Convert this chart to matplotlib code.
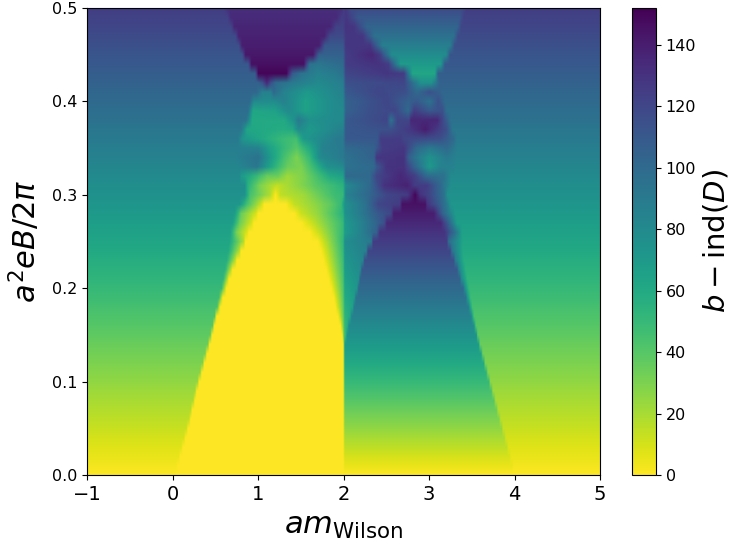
import numpy as np
import matplotlib
matplotlib.use("Agg")
import matplotlib.pyplot as plt

# ---- lower block: region edges read per row ----
low_y = [.00,.01,.02,.03,.04,.05,.06,.07,.08,.09,.10,.11,.12,.13,.14,.15,.16,.17,.18,.19,.20,.21,.22,.23,.24,.25]
low_bg = [0,2.5,5,7.5,10,12.5,15,17.5,20,22.5,25,27.5,30,32.5,35,37.5,40,42.5,45,47.5,50,52.5,55,57.5,60,62.5]
low_wedge = [0,5,10,15,20,25,30,35,40,45,50,55,60,65,70,75,80,85,90,95,100,105,110,115,120,125]
yellow_left = [.02,.05,.08,.11,.14,.17,.20,.22,.25,.27,.30,.33,.36,.39,.42,.45,.48,.51,.55,.58,.62,.65,.69,.74,.79,.84]
fringe_left = [.02,.05,.08,.11,.14,.17,.20,.22,.25,.27,.30,.33,.36,.39,.42,.45,.47,.49,.52,.54,.57,.59,.61,.63,.65,.66]
yellow_right = [2,2,2,2,2,2,2,2,2,2,2,2,2,2,2,1.98,1.96,1.93,1.90,1.88,1.85,1.82,1.79,1.76,1.73,1.69]
wedge_left = [2,2,2,2,2,2,2,2,2,2,2,2,2,2,2,2.03,2.05,2.08,2.11,2.13,2.16,2.18,2.20,2.23,2.27,2.33]
wedge_right = [4.0,3.97,3.94,3.91,3.88,3.85,3.82,3.79,3.76,3.73,3.70,3.67,3.64,3.61,3.58,3.55,3.52,3.49,3.46,3.43,3.40,3.36,3.33,3.29,3.25,3.21]
fringe_right = [4.0,3.97,3.94,3.91,3.88,3.85,3.82,3.79,3.76,3.73,3.70,3.67,3.64,3.61,3.58,3.56,3.54,3.52,3.50,3.48,3.46,3.44,3.42,3.40,3.39,3.39]

# ---- upper block: (x, value) anchors read per row ----
upper_y = [.26,.27,.28,.29,.30,.31,.32,.33,.34,.35,.36,.37,.38,.39,.40,.41,.42,.43,.44,.45,.46,.47,.48,.49,.50]
upper_rows = [
 [(-1,65),(.67,65),(.75,30),(.87,8),(.89,0),(1.6,0),(1.7,12),(1.8,25),(1.95,45),(1.99,50),(2.01,68),(2.2,85),(2.38,105),(2.42,130),(3.17,130),(3.3,95),(3.38,65),(5,65)],
 [(-1,67),(.70,67),(.78,35),(.92,10),(.95,0),(1.5,0),(1.6,10),(1.75,25),(1.95,45),(1.99,50),(2.01,70),(2.2,85),(2.35,100),(2.47,115),(2.5,135),(3.13,135),(3.25,95),(3.32,67),(5,67)],
 [(-1,70),(.72,70),(.8,35),(.97,10),(1.0,0),(1.42,0),(1.5,12),(1.7,25),(1.9,45),(1.99,55),(2.01,75),(2.2,90),(2.4,110),(2.55,120),(2.58,140),(3.05,140),(3.15,105),(3.3,70),(5,70)],
 [(-1,72),(.78,72),(.87,45),(1.02,15),(1.07,0),(1.32,0),(1.42,14),(1.65,25),(1.85,38),(1.97,50),(2.01,75),(2.25,95),(2.4,120),(2.65,125),(2.68,145),(2.95,145),(2.97,130),(3.1,110),(3.2,90),(3.25,72),(5,72)],
 [(-1,75),(.84,75),(.9,45),(1.14,18),(1.2,0),(1.26,15),(1.53,22),(1.71,35),(1.9,48),(1.99,50),(2.02,85),(2.27,100),(2.5,120),(2.74,125),(2.83,150),(2.89,130),(3.0,120),(3.17,95),(3.21,75),(5,75)],
 [(-1,77),(.84,77),(.88,55),(1.02,30),(1.14,20),(1.22,14),(1.34,20),(1.5,28),(1.69,40),(1.9,50),(1.99,55),(2.02,80),(2.3,100),(2.47,130),(2.74,138),(2.83,125),(2.97,125),(3.13,100),(3.21,85),(3.25,77),(5,77)],
 [(-1,80),(.78,80),(.8,70),(.98,50),(1.1,35),(1.22,35),(1.34,22),(1.53,30),(1.69,45),(1.84,60),(1.99,65),(2.02,100),(2.3,100),(2.38,120),(2.66,135),(2.82,125),(2.97,100),(3.17,95),(3.25,80),(5,80)],
 [(-1,82),(.75,82),(.98,92),(1.1,70),(1.22,50),(1.34,35),(1.5,30),(1.65,50),(1.8,75),(1.99,80),(2.02,95),(2.35,100),(2.38,110),(2.5,130),(2.7,130),(2.82,105),(3.0,70),(3.13,85),(3.28,85),(3.3,82),(5,82)],
 [(-1,85),(.72,85),(1.0,95),(1.14,70),(1.3,45),(1.45,30),(1.6,50),(1.72,80),(1.99,90),(2.02,95),(2.35,105),(2.38,128),(2.7,130),(2.76,105),(2.9,85),(3.0,75),(3.2,90),(3.32,85),(5,85)],
 [(-1,87),(.73,87),(1.0,85),(1.14,65),(1.3,50),(1.45,40),(1.6,60),(1.75,85),(1.99,90),(2.02,100),(2.35,105),(2.45,125),(2.7,128),(2.85,100),(3.0,90),(3.2,100),(3.32,87),(5,87)],
 [(-1,90),(.76,90),(.82,72),(1.26,50),(1.44,45),(1.53,70),(1.92,90),(1.99,90),(2.02,110),(2.39,110),(2.43,125),(2.66,125),(2.7,120),(3.13,115),(3.28,100),(3.32,90),(5,90)],
 [(-1,92),(.80,92),(.87,62),(1.3,58),(1.4,60),(1.47,80),(1.6,70),(1.95,85),(1.99,85),(2.02,110),(2.55,115),(2.78,128),(2.95,140),(3.2,115),(3.27,92),(5,92)],
 [(-1,95),(.86,95),(.93,60),(1.3,60),(1.41,75),(1.47,90),(1.6,75),(1.92,80),(1.99,80),(2.02,110),(2.5,120),(2.55,95),(2.62,120),(2.76,120),(2.78,135),(3.09,135),(3.21,105),(3.25,95),(5,95)],
 [(-1,97),(.88,97),(.94,62),(1.2,65),(1.35,80),(1.55,65),(1.9,80),(1.99,80),(2.02,105),(2.3,115),(2.6,120),(2.75,100),(2.82,125),(3.0,110),(3.15,115),(3.2,97),(5,97)],
 [(-1,100),(.90,100),(.95,80),(1.18,78),(1.3,85),(1.55,65),(1.9,80),(1.99,82),(2.02,105),(2.5,120),(2.75,105),(2.85,110),(3.0,95),(3.1,115),(3.18,100),(5,100)],
 [(-1,102),(.98,102),(1.05,85),(1.14,85),(1.18,100),(1.3,85),(1.57,70),(1.9,82),(1.99,85),(2.02,110),(2.4,120),(2.72,115),(2.85,100),(3.0,115),(3.15,102),(5,102)],
 [(-1,105),(1.0,105),(1.05,115),(1.1,135),(1.15,115),(1.2,100),(1.4,90),(1.7,80),(1.9,85),(1.99,88),(2.02,115),(2.7,120),(2.9,75),(3.02,75),(3.12,105),(5,105)],
 [(-1,107),(.96,107),(1.0,150),(1.33,150),(1.40,110),(1.5,95),(1.7,85),(1.9,90),(1.99,95),(2.02,120),(2.5,128),(2.70,125),(2.80,62),(3.06,62),(3.10,107),(5,107)],
 [(-1,110),(.88,110),(.92,146),(1.53,146),(1.60,95),(1.7,92),(1.99,100),(2.02,125),(2.4,130),(2.52,125),(2.66,70),(3.13,70),(3.18,110),(5,110)],
 [(-1,112),(.81,112),(.85,142),(1.64,142),(1.71,105),(1.99,105),(2.02,125),(2.33,135),(2.42,125),(2.56,78),(3.19,78),(3.24,112),(5,112)],
 [(-1,115),(.77,115),(.81,140),(1.71,140),(1.78,110),(1.99,110),(2.02,128),(2.31,128),(2.45,87),(3.24,87),(3.29,115),(5,115)],
 [(-1,117),(.73,117),(.77,138),(1.77,138),(1.84,118),(1.99,118),(2.02,128),(2.22,128),(2.36,95),(3.28,95),(3.33,117),(5,117)],
 [(-1,120),(.68,120),(.72,136),(1.84,136),(1.91,122),(1.99,122),(2.02,130),(2.12,128),(2.27,103),(3.32,103),(3.37,120),(5,120)],
 [(-1,122),(.64,122),(.68,134),(1.91,134),(1.97,125),(1.99,125),(2.03,128),(2.17,110),(3.35,110),(3.40,122),(5,122)],
 [(-1,125),(.60,125),(.64,132),(1.98,132),(1.99,125),(2.02,128),(2.08,118),(3.38,118),(3.43,125),(5,125)],
]

x_ticks = [-1, 0, 1, 2, 3, 4, 5]
y_ticks = [0.0, 0.1, 0.2, 0.3, 0.4, 0.5]
cbar_ticks = [0, 20, 40, 60, 80, 100, 120, 140]
v_max = 152

# ---- assemble the picture ----
xs = np.arange(-1, 5.0001, 0.01)
rows = []
for i in range(len(low_y)):
    pts = [(-1, low_bg[i])]
    if fringe_left[i] < yellow_left[i]:
        pts.append((fringe_left[i], low_bg[i]))
        pts.append((yellow_left[i] - .005, low_bg[i] * 0.25))
    else:
        pts.append((yellow_left[i] - .005, low_bg[i]))
    pts.append((yellow_left[i] + .005, 0))
    if yellow_right[i] < 1.995:
        pts.append((yellow_right[i], 0))
        pts.append((1.995, low_wedge[i] * 0.42))
        pts.append((2.005, low_wedge[i] * 0.62))
        pts.append((wedge_left[i] - .005, low_wedge[i] * 0.72))
        pts.append((wedge_left[i] + .005, low_wedge[i]))
    else:
        pts.append((1.995, 0))
        pts.append((2.005, low_wedge[i]))
    pts.append((wedge_right[i] - .005, low_wedge[i]))
    if fringe_right[i] > wedge_right[i] + .01:
        pts.append((wedge_right[i] + .005, low_wedge[i] * 0.8))
        pts.append((fringe_right[i], low_bg[i]))
    else:
        pts.append((wedge_right[i] + .005, low_bg[i]))
    pts.append((5, low_bg[i]))
    rows.append(np.interp(xs, [p[0] for p in pts], [p[1] for p in pts]))
for anchors in upper_rows:
    rows.append(np.interp(xs, [p[0] for p in anchors], [p[1] for p in anchors]))
Z = np.array(rows)

fig = plt.figure(figsize=(7.34, 5.48), dpi=100)
W, H = 734.0, 548.0
ax = fig.add_axes([87 / W, (H - 475) / H, (600 - 87) / W, (475 - 8) / H])
im = ax.imshow(Z, origin="lower", aspect="auto", cmap="viridis_r", vmin=0, vmax=v_max,
               extent=[-1.005, 5.005, -0.005, 0.505], interpolation="bilinear")
ax.set_xlim(-1, 5)
ax.set_ylim(0, 0.5)
ax.set_xticks(x_ticks)
ax.set_yticks(y_ticks)
ax.tick_params(axis="x", labelsize=14)
ax.tick_params(axis="y", labelsize=11.5)
ax.set_xlabel(r"$am_{\mathrm{Wilson}}$", fontsize=22, labelpad=6)
ax.set_ylabel(r"$a^2eB/2\pi$", fontsize=22, labelpad=7)

cax = fig.add_axes([632 / W, (H - 475) / H, 24 / W, (475 - 8) / H])
cb = fig.colorbar(im, cax=cax)
cb.set_ticks(cbar_ticks)
cb.ax.tick_params(labelsize=11.5)
cb.set_label(r"$b-\mathrm{ind}(D)$", fontsize=21, labelpad=4)

fig.savefig("out.png", dpi=100)
